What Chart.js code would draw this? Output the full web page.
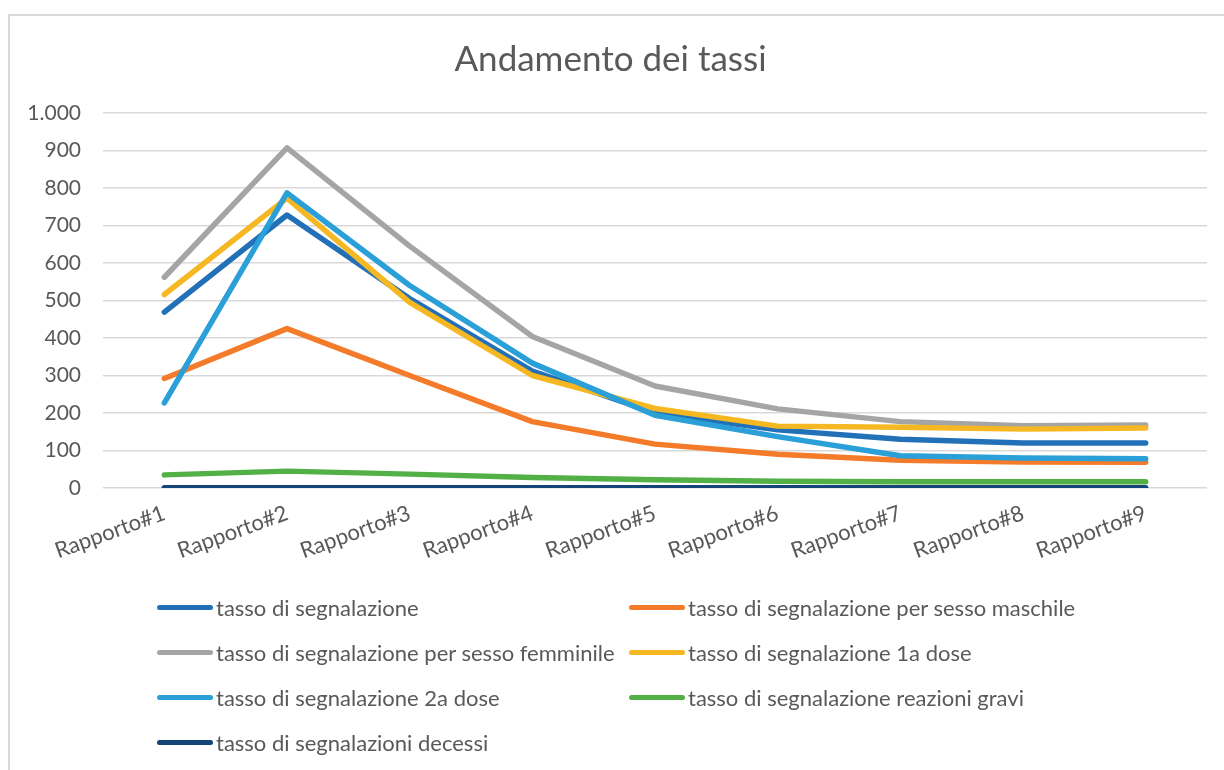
<!DOCTYPE html>
<html>
<head>
<meta charset="utf-8">
<script src="https://cdn.jsdelivr.net/npm/chart.js@4"></script>
<style>
  body { margin: 0; background: #fff; }
  #wrap { position: relative; width: 1224px; height: 770px; overflow: hidden; }
  #frame { position: absolute; left: 8px; top: 14px; width: 1230px; height: 770px; border: 2px solid #d9d9d9; box-sizing: border-box; }
  #grafico { position: absolute; left: 0; top: 0; }
  .voce { position: absolute; height: 26px; display: flex; align-items: center; font-family: Lato, sans-serif; font-size: 22px; color: #595959; white-space: nowrap; }
  .voce span.linea { display: inline-block; width: 56px; height: 5px; border-radius: 3px; margin-right: 3px; }
</style>
</head>
<body>
<div id="wrap">
  <div id="frame"></div>
  <canvas id="grafico" width="1224" height="770"></canvas>
  <div id="legenda"></div>
</div>
<script>
// dati
var rapporti = ['Rapporto#1','Rapporto#2','Rapporto#3','Rapporto#4','Rapporto#5','Rapporto#6','Rapporto#7','Rapporto#8','Rapporto#9'];

var tasso = [469, 728, 505, 312, 200, 155, 130, 120, 120];
var maschile = [292, 425, 300, 177, 117, 90, 74, 69, 69];
var femminile = [562, 907, 645, 404, 272, 211, 177, 166, 168];
var primaDose = [516, 773, 495, 300, 212, 165, 162, 157, 160];
var secondaDose = [227, 787, 540, 333, 194, 137, 86, 80, 78];
var gravi = [35, 45, 37, 28, 22, 18, 17, 17, 17];
var decessi = [1, 1, 1, 1, 1, 1, 1, 1, 1];

var nomi = ['tasso di segnalazione', 'tasso di segnalazione per sesso maschile',
  'tasso di segnalazione per sesso femminile', 'tasso di segnalazione 1a dose',
  'tasso di segnalazione 2a dose', 'tasso di segnalazione reazioni gravi',
  'tasso di segnalazioni decessi'];
var colori = ['#2270b8', '#f47b2a', '#a5a5a5', '#f5b823', '#2a9fd8', '#52b046', '#154479'];
var serie = [tasso, maschile, femminile, primaDose, secondaDose, gravi, decessi];

var grigio = '#595959';

var datasets = serie.map(function (valori, i) {
  return {
    label: nomi[i],
    data: valori,
    borderColor: colori[i],
    backgroundColor: colori[i],
    borderWidth: 5.5,
    pointRadius: 0,
    tension: 0,
    borderCapStyle: 'round',
    borderJoinStyle: 'round',
    order: serie.length - i // le ultime serie sopra, come in Excel
  };
});

function migliaia(v) {
  return String(v).replace(/\B(?=(\d{3})+(?!\d))/g, '.');
}

new Chart(document.getElementById('grafico'), {
  type: 'line',
  data: { labels: rapporti, datasets: datasets },
  options: {
    responsive: false,
    animation: false,
    layout: { padding: { left: 14, right: 17, top: 0, bottom: 190 } },
    plugins: {
      legend: { display: false },
      tooltip: { enabled: false },
      title: {
        display: true,
        text: 'Andamento dei tassi',
        color: grigio,
        font: { family: 'Lato', size: 35, weight: 'normal' },
        padding: { top: 39, bottom: 32 }
      }
    },
    scales: {
      x: {
        offset: true,
        grid: { display: false },
        border: { display: false },
        ticks: {
          color: grigio,
          font: { family: 'Lato', size: 22 },
          minRotation: 20, maxRotation: 20,
          padding: 4
        },
        afterFit: function (s) { s.height = 92; }
      },
      y: {
        min: 0, max: 1000,
        grid: { color: '#d9d9d9', lineWidth: 1.5, drawTicks: false },
        border: { display: false },
        ticks: {
          stepSize: 100,
          color: grigio,
          font: { family: 'Lato', size: 21 },
          padding: 22,
          callback: function (v) { return migliaia(v); }
        },
        afterFit: function (s) { s.width = 89; }
      }
    }
  }
});

// legenda su due colonne
var legenda = document.getElementById('legenda');
nomi.forEach(function (nome, i) {
  var d = document.createElement('div');
  d.className = 'voce';
  d.style.left = (i % 2 === 0 ? 157 : 629) + 'px';
  d.style.top = (594 + Math.floor(i / 2) * 45) + 'px';
  d.innerHTML = '<span class="linea" style="background:' + colori[i] + '"></span>';
  d.appendChild(document.createTextNode(nome));
  legenda.appendChild(d);
});
</script>
</body>
</html>
